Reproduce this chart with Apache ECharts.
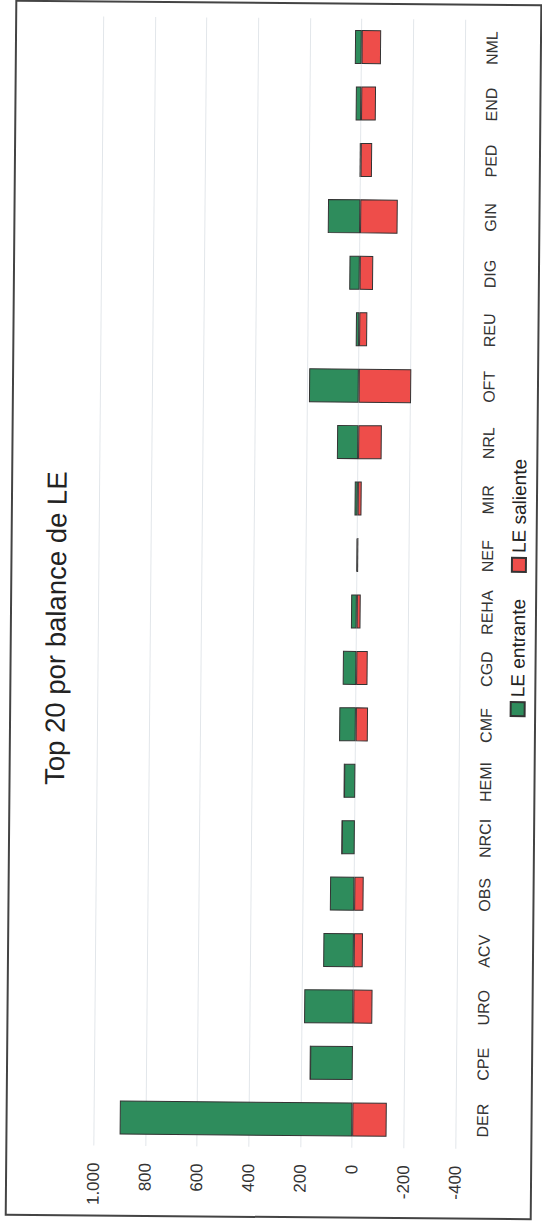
<!DOCTYPE html>
<html>
<head>
<meta charset="utf-8">
<script src="https://cdn.jsdelivr.net/npm/echarts@6/dist/echarts.min.js"></script>
<style>
  html, body { margin: 0; padding: 0; background: #ffffff; }
  #page { position: absolute; left: 0; top: 0; width: 542px; height: 1225px; overflow: hidden;
          transform: rotate(0.5deg); transform-origin: 271px 612px; }
  #chart { position: absolute; left: 0; top: 0; width: 1225px; height: 542px;
           transform-origin: 0 0; transform: translate(0px, 1225px) rotate(-90deg); }
</style>
</head>
<body>
<div id="page"><div id="chart"></div></div>
<script>
// ---- data ----
const titleText = 'Top 20 por balance de LE';
const categories = ['DER', 'CPE', 'URO', 'ACV', 'OBS', 'NRCI', 'HEMI', 'CMF', 'CGD', 'REHA',
                    'NEF', 'MIR', 'NRL', 'OFT', 'REU', 'DIG', 'GIN', 'PED', 'END', 'NML'];
const seriesNames = ['LE entrante', 'LE saliente'];
const leEntrante = [900, 165, 190, 118, 94, 50, 43, 64, 52, 22, 3, 12, 82, 192, 13, 40, 125, 4, 21, 26];
const leSaliente = [-133, 0, -74, -35, -36, 0, 0, -47, -44, -15, -4, -15, -91, -203, -31, -52, -145, -44, -57, -75];
const valueTicks = [-400, -200, 0, 200, 400, 600, 800, 1000];

function fmt(v) {
  const s = String(Math.abs(v)).replace(/\B(?=(\d{3})+(?!\d))/g, '.');
  return (v < 0 ? '-' : '') + s;
}

const chart = echarts.init(document.getElementById('chart'), null, { renderer: 'svg', width: 1225, height: 542 });
const FONT = '"Liberation Sans", Arial, Helvetica, sans-serif';

chart.setOption({
  animation: false,
  backgroundColor: '#ffffff',
  textStyle: { fontFamily: FONT },
  title: {
    text: titleText,
    left: 590, top: 37, textAlign: 'center',
    textStyle: { fontFamily: FONT, fontSize: 27.5, fontWeight: 'normal', color: '#222' }
  },
  legend: {
    data: seriesNames,
    left: 505, top: 504,
    icon: 'rect', itemWidth: 14, itemHeight: 14, itemGap: 26,
    textStyle: { fontFamily: FONT, fontSize: 19, color: '#222' }
  },
  graphic: [{
    type: 'rect', silent: true, z: -1,
    shape: { x: 8, y: 11, width: 1214, height: 525 },
    style: { fill: 'none', stroke: '#444', lineWidth: 2 }
  }],
  grid: { left: 78, right: 18, top: 98.3, bottom: 81.9 },
  xAxis: {
    type: 'category',
    data: categories,
    axisLine: { show: false },
    axisTick: { show: false },
    axisLabel: { interval: 0, margin: 19, fontFamily: FONT, fontSize: 16, color: '#333' }
  },
  yAxis: {
    type: 'value',
    min: valueTicks[0], max: valueTicks[valueTicks.length - 1], interval: 200,
    axisLine: { show: false },
    axisTick: { show: false },
    splitLine: { lineStyle: { color: '#e2e6ea', width: 1 } },
    axisLabel: { margin: 17, fontFamily: FONT, fontSize: 17, color: '#333', formatter: fmt }
  },
  series: [
    {
      name: seriesNames[0], type: 'bar', stack: 'le', barWidth: 34,
      data: leEntrante,
      itemStyle: { color: '#2e8c5c', borderColor: '#333', borderWidth: 1 }
    },
    {
      name: seriesNames[1], type: 'bar', stack: 'le', barWidth: 34,
      data: leSaliente,
      itemStyle: { color: '#ee4d4a', borderColor: '#333', borderWidth: 1 }
    }
  ]
});
</script>
</body>
</html>
